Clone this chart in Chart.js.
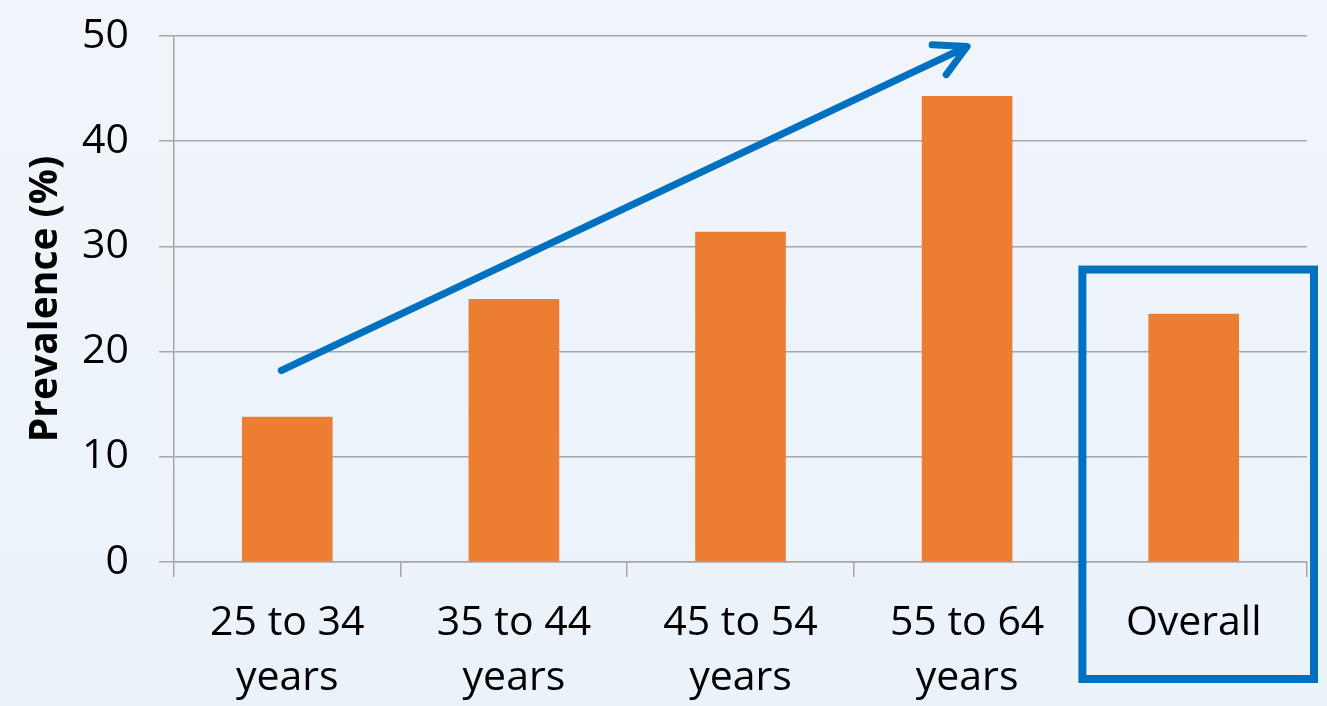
<!DOCTYPE html>
<html>
<head>
<meta charset="utf-8">
<script src="https://cdn.jsdelivr.net/npm/chart.js@4.4.0/dist/chart.umd.min.js"></script>
<style>
  html, body { margin: 0; padding: 0; }
  body {
    width: 1327px; height: 706px; overflow: hidden;
    background: linear-gradient(to bottom, #f1f5fb, #eaf2fa);
  }
  #wrap { width: 1327px; height: 706px; }
</style>
</head>
<body>
<div id="wrap"><canvas id="prevChart"></canvas></div>
<script>
const categories = [["25 to 34", "years"], ["35 to 44", "years"], ["45 to 54", "years"], ["55 to 64", "years"], "Overall"];
const prevalence = [13.8, 25.0, 31.4, 44.3, 23.6];
const yTicks = [0, 10, 20, 30, 40, 50];

// trend arrow: [category index, value]
const arrowFrom = [0, 18.2];
const arrowTo = [3, 49.0];
const boxedCategory = 4;

const gridGray = "#a6a6a6";
const blue = "#0070c0";
const font = "'Open Sans'";

const annotations = {
  id: "annotations",
  afterDraw(chart) {
    const { ctx, scales } = chart;
    const x = scales.x, y = scales.y;

    // arrow
    const x1 = x.getPixelForValue(arrowFrom[0]) - 6;
    const y1 = y.getPixelForValue(arrowFrom[1]);
    const x2 = x.getPixelForValue(arrowTo[0]);
    const y2 = y.getPixelForValue(arrowTo[1]);
    const ang = Math.atan2(y2 - y1, x2 - x1);
    ctx.save();
    ctx.strokeStyle = blue;
    ctx.lineWidth = 7;
    ctx.lineCap = "round";
    ctx.lineJoin = "round";
    ctx.beginPath();
    ctx.moveTo(x1, y1);
    ctx.lineTo(x2 - 4 * Math.cos(ang), y2 - 4 * Math.sin(ang));
    ctx.stroke();
    const head = 35;
    ctx.beginPath();
    ctx.moveTo(x2 - head * Math.cos(ang - 0.49), y2 - head * Math.sin(ang - 0.49));
    ctx.lineTo(x2, y2);
    ctx.lineTo(x2 - head * Math.cos(ang + 0.49), y2 - head * Math.sin(ang + 0.49));
    ctx.stroke();

    // box round the Overall column
    const half = (x.getPixelForValue(1) - x.getPixelForValue(0)) / 2;
    const cx = x.getPixelForValue(boxedCategory);
    const left = cx - half + 2;
    const right = cx + half + 7;
    const top = y.getPixelForValue(27.8);
    const bottom = chart.height - 27;
    ctx.lineWidth = 8;
    ctx.lineCap = "butt";
    ctx.lineJoin = "miter";
    ctx.strokeRect(left, top, right - left, bottom - top);
    ctx.restore();
  }
};

new Chart(document.getElementById("prevChart"), {
  type: "bar",
  data: {
    labels: categories,
    datasets: [{
      data: prevalence,
      backgroundColor: "#ed7d31",
      borderWidth: 0,
      barPercentage: 0.5,
      categoryPercentage: 0.8
    }]
  },
  options: {
    responsive: true,
    maintainAspectRatio: false,
    animation: false,
    events: [],
    layout: { padding: { top: 36, right: 20, left: 0, bottom: 0 } },
    plugins: { legend: { display: false }, tooltip: { enabled: false } },
    scales: {
      x: {
        grid: {
          offset: true,
          drawOnChartArea: false,
          drawTicks: true,
          tickLength: 15,
          color: gridGray,
          lineWidth: 1.5
        },
        border: { display: true, color: gridGray, width: 1.5 },
        ticks: {
          color: "#000",
          padding: 19,
          maxRotation: 0,
          autoSkip: false,
          font: { family: font, size: 41, lineHeight: 1.34 }
        },
        afterFit(scale) { scale.height = 144; }
      },
      y: {
        min: 0,
        max: 50,
        afterBuildTicks(scale) { scale.ticks = yTicks.map(v => ({ value: v })); },
        grid: { color: gridGray, lineWidth: 1.5, tickLength: 15 },
        border: { display: true, color: gridGray, width: 1.5 },
        ticks: {
          color: "#000",
          padding: 30,
          font: { family: font, size: 41, lineHeight: 0.05 }
        },
        title: {
          display: true,
          text: "Prevalence (%)",
          color: "#000",
          padding: { top: 22, bottom: 0 },
          font: { family: font, size: 39, weight: "bold" }
        },
        afterFit(scale) { scale.width = 174; }
      }
    }
  },
  plugins: [annotations]
});
</script>
</body>
</html>
